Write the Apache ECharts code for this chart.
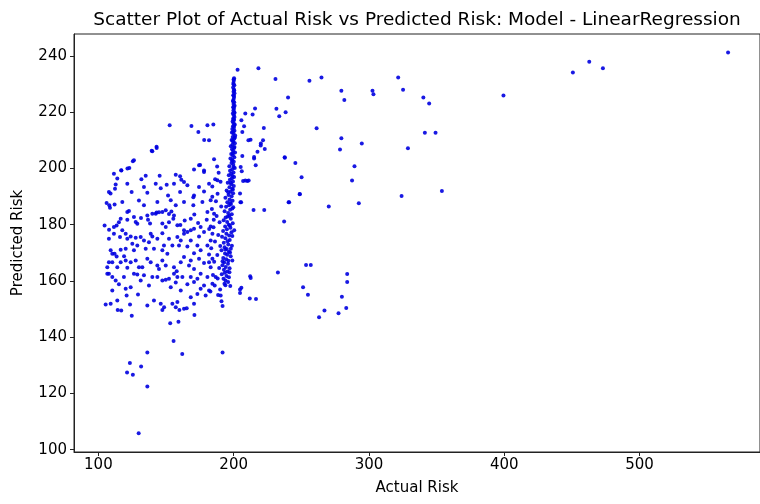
<!DOCTYPE html>
<html>
<head>
<meta charset="utf-8">
<script src="https://cdn.jsdelivr.net/npm/echarts@6/dist/echarts.min.js"></script>
<style>
  html, body { margin: 0; padding: 0; background: #fff; }
  #chart { width: 760px; height: 504px; }
</style>
</head>
<body>
<div id="chart"></div>
<script>
// Actual vs predicted risk, each entry is [actual, predicted]
const spreadPoints = [
  [139.9,206.1],[143.1,207.3],[126.3,202.9],[117.0,199.3],[122.9,200.2],[135.0,197.4],[131.8,196.2],
  [145.3,197.4],[170.7,199.6],[175.2,201.2],[178.1,198.7],[157.2,197.8],[160.4,197.2],[161.3,196.0],
  [163.3,195.2],[188.0,195.8],[112.8,194.3],[112.3,192.8],[107.8,191.6],[124.6,191.6],[136.2,191.4],
  [146.1,193.0],[150.5,194.2],[151.5,190.4],[160.4,191.6],[170.7,190.4],[178.1,191.8],[183.0,188.7],
  [184.2,189.9],[106.1,187.7],[108.1,186.9],[108.6,186.0],[112.0,187.2],[122.6,184.9],[126.3,182.7],
  [136.2,183.3],[142.4,183.9],[144.8,184.4],[149.8,185.1],[154.0,184.7],[152.2,183.8],[155.4,182.1],
  [170.2,189.8],[170.2,186.9],[176.9,188.1],[180.6,184.5],[185.5,183.9],[116.5,182.1],[115.2,180.9],
  [113.5,179.7],[111.5,179.2],[104.6,179.7],[107.9,178.2],[121.4,181.8],[127.6,181.0],[136.7,181.8],
  [138.2,180.4],[147.3,180.4],[149.8,179.2],[158.4,179.8],[163.3,178.0],[168.3,178.0],[170.7,178.6],
  [175.6,179.2],[107.8,175.0],[116.0,175.6],[121.4,175.0],[123.9,175.8],[127.6,175.4],[131.3,175.6],
  [133.7,174.4],[138.7,176.8],[143.6,175.0],[147.3,177.0],[152.2,175.0],[158.4,175.6],[163.3,176.8],
  [165.8,177.4],[174.4,175.8],[178.1,177.4],[184.3,176.8],[109.1,170.9],[110.3,169.7],[112.0,169.7],
  [113.5,168.7],[116.5,171.1],[120.2,171.5],[119.0,168.8],[126.3,170.9],[135.0,171.5],[141.1,171.5],
  [147.3,170.9],[151.0,169.7],[159.6,172.6],[165.8,172.3],[170.7,169.9],[175.6,170.9],[181.8,169.4],
  [184.3,167.9],[107.8,166.7],[106.6,164.9],[116.5,166.7],[120.2,167.3],[121.4,164.7],[130.0,164.9],
  [132.5,164.9],[143.6,165.5],[144.8,164.3],[155.9,164.9],[157.9,163.5],[160.9,166.7],[167.0,165.5],
  [170.7,164.3],[178.1,166.4],[183.0,164.9],[106.6,162.6],[107.8,162.6],[126.3,162.6],[128.8,162.3],
  [139.9,161.4],[152.2,160.8],[155.9,162.6],[162.1,161.4],[175.6,162.6],[180.6,161.4],[112.8,160.2],
  [115.2,158.8],[131.3,160.2],[147.3,160.2],[149.8,160.4],[157.2,159.5],[165.8,158.8],[170.7,159.6],
  [175.6,157.2],[178.1,158.4],[184.3,159.0],[120.2,157.2],[120.9,154.8],[129.3,155.2],[168.3,154.2],
  [173.2,155.4],[179.3,154.8],[190.4,154.8],[105.4,151.6],[109.1,151.9],[123.4,151.6],[136.2,151.3],
  [146.1,151.9],[148.6,150.7],[154.7,151.9],[157.2,150.7],[163.3,150.1],
  [121.4,184.5],[128.8,180.3],[131.5,182.4],[139.9,183.9],[143.0,184.3],[147.3,184.5],[155.9,183.3],
  [152.2,180.9],[160.6,179.9],[163.8,181.5],[168.3,182.1],[170.9,183.6],[173.7,180.6],[180.1,181.8],
  [183.0,179.4],[111.5,176.8],[117.7,178.0],[120.2,176.8],[125.1,173.2],[128.8,172.6],[137.4,173.8],
  [139.9,175.8],[148.5,172.6],[154.7,172.6],[160.9,174.4],[168.3,174.4],[173.2,172.6],[180.6,172.6],
  [110.3,166.7],[114.0,164.9],[123.9,166.7],[127.6,167.3],[136.2,167.9],[138.7,166.7],[147.3,167.3],
  [149.8,165.5],[163.3,168.5],[168.3,167.3],[174.4,167.9],[181.8,166.7],[110.3,161.4],[118.9,161.4],
  [133.7,162.0],[143.6,161.4],[158.4,161.4],[168.3,161.4],[173.2,160.8],[186.7,161.4],[110.3,156.6],
  [123.9,157.8],[137.4,158.4],[153.5,157.8],[160.9,156.6],[181.8,156.6],[114.0,153.1],[141.1,153.1],
  [158.4,152.5],[170.7,151.9],[111.5,198.1],[114.0,196.4],[121.4,194.6],[133.7,193.4],[142.4,194.6],
  [155.9,194.6],[165.8,194.0],[174.4,193.4],[181.8,194.6],[153.5,188.7],[163.3,188.1],[157.2,186.9],
  [143.6,188.1],[133.7,186.9],[117.7,188.1],[130.0,188.6],[109.0,191.1],
  [152.7,215.4],[168.8,215.1],[173.9,213.0],[178.2,210.1],[180.6,215.4],[185.0,215.6],[181.8,210.0],
  [139.4,206.3],[143.0,207.7],[125.5,202.6],[121.5,200.0],[116.9,199.4],[174.4,201.1],[178.1,199.3]
];

// Low predictions below 150
const lowPoints = [
  [114.3,149.7],[116.9,149.5],[124.7,147.6],[147.3,149.7],[153.1,145.0],[159.2,145.5],[159.9,149.7],
  [165.3,150.3],[171.0,147.9],[155.6,138.7],[136.2,134.6],[162.0,134.0],[123.3,130.8],[121.2,127.5],
  [125.5,126.7],[131.6,129.6],[136.2,122.5],[129.8,105.9],[191.8,134.6],[191.8,151.1]
];

// Dense band of actual risk near 200
const columnPoints = [
  [200.3,232.1],[200.1,231.2],[199.8,230.4],[200.5,229.6],[199.6,228.8],[200.2,228.1],[199.9,227.3],
  [200.6,226.7],[199.7,226.0],[200.3,225.4],[200.0,224.7],[199.5,224.1],[200.4,223.5],[199.9,222.9],
  [200.7,222.3],[199.6,221.8],[200.2,221.2],[199.8,220.6],[200.5,220.0],[199.4,219.5],[200.1,218.9],
  [200.6,218.3],[199.7,217.8],[200.3,217.2],[199.2,216.7],[200.0,216.1],[200.8,215.6],[199.5,215.0],
  [200.2,214.5],[199.0,214.0],[200.6,213.4],[198.7,212.8],[199.9,212.3],[201.1,211.7],[199.3,211.2],
  [200.4,210.6],[198.5,210.1],[199.8,209.5],[200.9,209.0],[199.1,208.4],[197.9,207.9],[200.3,207.3],
  [198.8,206.8],[199.6,206.2],[201.0,205.7],[198.2,205.1],[199.4,204.6],[200.5,204.0],[197.6,203.5],
  [199.0,203.0],[200.1,202.4],[198.4,201.9],[199.7,201.3],[196.8,200.8],[200.8,200.2],[198.9,199.7],
  [197.3,199.2],[199.9,198.6],[198.1,198.1],[196.4,197.6],[200.3,197.0],[198.7,196.5],[197.2,196.0],
  [199.5,195.4],[195.6,194.9],[198.3,194.4],[200.1,193.8],[196.9,193.3],[198.9,192.8],[194.8,192.2],
  [197.7,191.7],[199.6,191.2],[196.2,190.6],[198.5,190.1],[193.9,189.6],[197.0,189.0],[199.2,188.5],
  [195.3,188.0],[198.0,187.4],[196.6,186.9],[194.4,186.4],[199.0,185.8],[197.4,185.3],[193.3,184.8],
  [195.9,184.2],[198.6,183.7],[196.8,183.2],[194.1,182.6],[197.9,182.1],[192.6,181.6],[195.2,181.0],
  [199.3,180.5],[196.4,180.0],[193.7,179.4],[197.6,178.9],[195.0,178.4],[192.2,177.8],[198.4,177.3],
  [194.6,176.8],[196.7,176.2],[191.4,175.7],[193.9,175.2],[197.1,174.6],[195.5,174.1],[192.7,173.6],
  [196.0,173.0],[198.7,172.5],[193.3,172.0],[194.9,171.4],[191.0,170.9],[196.4,170.4],[193.6,169.8],
  [195.2,169.3],[197.8,168.8],[192.3,168.2],[194.5,167.7],[196.1,167.2],[193.0,166.6],[195.8,166.1],
  [191.7,165.6],[194.2,165.0],[197.0,164.5],[192.8,164.0],[195.4,163.4],[193.5,162.9],[191.2,162.4],
  [194.7,161.8],[196.5,161.3],[192.5,160.8],[194.0,160.2],[195.9,159.6],[193.2,159.0],
  [200.0,231.7],[199.9,229.9],[200.4,227.7],[200.1,225.9],[199.7,223.8],[200.2,222.0],[200.6,219.7],
  [199.9,217.5],[200.4,215.3],[199.6,213.1],[200.9,211.0],[199.2,209.8],[200.6,207.6],[199.4,205.4],
  [198.9,202.7],[200.0,200.5],[199.1,197.3],[197.8,194.9],[199.4,192.5],[196.0,191.5],[197.5,187.7],
  [199.7,186.2],[195.7,182.9],[197.2,179.7],[199.0,176.0],[193.8,171.2],[197.3,170.1],[191.8,167.0],
  [196.9,163.1],[193.9,158.5]
];

// Scattered points just left of the band
const nearColumnPoints = [
  [185.5,203.3],[187.8,200.7],[188.9,198.5],[186.3,196.2],[190.3,195.3],[184.2,193.6],[188.1,191.0],
  [186.9,188.3],[190.8,186.5],[183.9,185.6],[187.4,183.1],[189.6,180.9],[185.1,179.1],[188.6,176.3],
  [186.2,174.0],[190.1,172.4],[183.4,171.6],[187.9,169.2],[185.6,166.8],[189.3,164.6],[184.7,162.1],
  [188.2,160.9],[186.0,158.4],[190.0,157.0],[182.8,156.3],[188.5,155.0],[191.0,152.8],[185.3,181.8],
  [181.9,178.5],[183.0,174.4]
];

// Higher actual risk values
const tailPoints = [
  [565.4,241.2],[462.8,237.9],[450.7,234.1],[472.9,235.6],[399.4,225.9],[353.9,192.0],[349.2,212.7],
  [341.3,212.7],[344.5,223.1],[340.2,225.2],[328.8,207.2],[325.2,228.0],[321.6,232.3],[324.1,190.2],
  [302.6,227.6],[303.3,226.4],[294.7,208.9],[289.3,200.8],[287.5,195.7],[292.5,187.6],[281.8,224.3],
  [279.6,227.6],[279.6,210.7],[278.6,206.7],[283.9,162.5],[283.9,159.6],[280.0,154.4],[283.2,150.4],
  [277.5,148.5],[267.1,149.5],[263.1,147.1],[270.3,186.5],[261.3,214.3],[264.9,232.3],[256.0,231.2],
  [257.0,165.7],[253.5,165.7],[251.3,157.8],[254.9,155.1],[248.8,190.9],[250.2,196.9],[245.6,201.9],
  [240.2,225.2],[238.4,220.0],[237.7,204.0],[237.3,181.1],[240.6,188.0],[232.7,163.0],[230.9,231.8],
  [231.6,221.2],[233.7,218.6],[222.3,214.4],[223.0,206.9],[222.6,185.2],[214.7,185.2],[211.9,153.8],
  [216.5,153.6],[208.6,195.7],[211.1,195.7],[215.8,221.3],[214.0,219.2],[208.6,219.5],[202.9,235.1],
  [218.3,235.6],[212.2,161.7],[204.7,157.0],[197.5,158.2],[206.4,204.4],[215.1,203.5],[216.3,201.1],
  [205.2,200.5],[206.0,199.0],[210.1,195.5],[207.0,195.5],[205.5,188.0],[212.6,161.1],[205.7,157.6],
  [204.7,155.7],[205.7,217.1],[207.7,215.0],[206.4,213.0],[210.9,210.0],[212.5,210.2],[221.7,210.0],
  [220.0,208.2],[220.1,208.9],[217.6,205.9],[215.1,204.1],[204.7,191.1],[205.0,188.0],[199.0,167.3],
  [197.9,171.5],[200.4,178.0],[237.8,203.8],[241.0,188.0],[248.9,190.8]
];

const xTicks = [100, 200, 300, 400, 500];
const yTicks = [100, 120, 140, 160, 180, 200, 220, 240];

const chart = echarts.init(document.getElementById('chart'));

const axisText = { color: '#000', fontFamily: 'DejaVu Sans', fontSize: 15 };

chart.setOption({
  animation: false,
  backgroundColor: '#fff',
  title: {
    text: 'Scatter Plot of Actual Risk vs Predicted Risk: Model - LinearRegression',
    left: 412, top: 6, textAlign: 'center',
    textStyle: { color: '#000', fontFamily: 'DejaVu Sans', fontSize: 18.5, fontWeight: 'normal' }
  },
  grid: {
    left: 74, right: 0, top: 34, bottom: 52,
    show: true, borderColor: '#222', borderWidth: 1, backgroundColor: 'transparent'
  },
  xAxis: {
    type: 'value', min: 82, max: 589,
    name: 'Actual Risk', nameLocation: 'middle', nameGap: 29,
    nameTextStyle: axisText,
    axisLine: { show: true, onZero: false, lineStyle: { color: '#222', width: 1 } },
    axisTick: { show: true, length: 4, customValues: xTicks, lineStyle: { color: '#222' } },
    axisLabel: { customValues: xTicks, margin: 6, ...axisText },
    splitLine: { show: false }
  },
  yAxis: {
    type: 'value', min: 99.2, max: 247.8,
    name: 'Predicted Risk', nameLocation: 'middle', nameGap: 48,
    nameTextStyle: axisText,
    axisLine: { show: true, onZero: false, lineStyle: { color: '#222', width: 1 } },
    axisTick: { show: true, length: 4, customValues: yTicks, lineStyle: { color: '#222' } },
    axisLabel: { customValues: yTicks, margin: 7, ...axisText },
    splitLine: { show: false }
  },
  series: [{
    type: 'scatter',
    symbol: 'circle',
    symbolSize: 4,
    itemStyle: { color: '#0000e0', opacity: 0.9 },
    data: [].concat(spreadPoints, lowPoints, columnPoints, nearColumnPoints, tailPoints)
  }]
});
</script>
</body>
</html>
